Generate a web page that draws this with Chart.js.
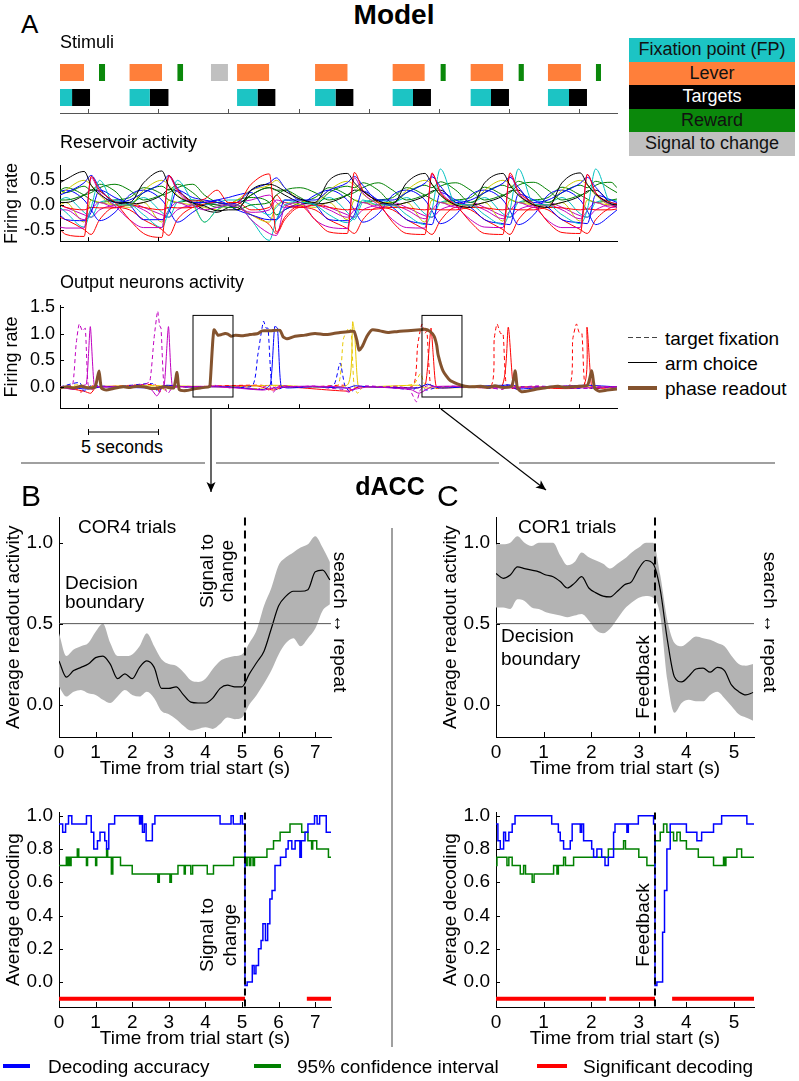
<!DOCTYPE html>
<html>
<head>
<meta charset="utf-8">
<script src="https://cdn.jsdelivr.net/npm/chart.js@4.4.1/dist/chart.umd.min.js"></script>
<style>
  body { margin: 0; background: #fff; }
  #fig { position: relative; width: 799px; height: 1081px; overflow: hidden;
         font-family: 'Liberation Sans', Arial, sans-serif; color: #000; }
  canvas { position: absolute; }
  .t { position: absolute; white-space: nowrap; line-height: 1; }
  .c { transform: translate(-50%, -50%); }
  .l { transform: translateY(-50%); }
  .rl { transform: translate(-50%, -50%) rotate(-90deg); text-align: center; }
  .rr { transform: translate(-50%, -50%) rotate(90deg); text-align: center; }
  .key { position: absolute; left: 629px; width: 166px; height: 23.6px; line-height: 23.6px;
         text-align: center; font-size: 18px; color: #111; }
  .rule { position: absolute; background: #a0a0a0; }
</style>
</head>
<body>
<div id="fig">
  <canvas id="stim" width="620" height="65" style="left:0;top:50px"></canvas>
  <canvas id="res" width="620" height="107" style="left:0;top:150px"></canvas>
  <canvas id="out" width="620" height="134" style="left:0;top:290px"></canvas>
  <canvas id="bTop" width="340" height="280" style="left:0;top:500px"></canvas>
  <canvas id="bBot" width="340" height="255" style="left:0;top:795px"></canvas>
  <canvas id="cTop" width="340" height="280" style="left:437px;top:500px"></canvas>
  <canvas id="cBot" width="340" height="255" style="left:437px;top:795px"></canvas>

  <div class="t l" style="left:21px;top:24px;font-size:26px">A</div>
  <div class="t c" style="left:394px;top:15px;font-size:28px;font-weight:bold">Model</div>
  <div class="t l" style="left:60px;top:42px;font-size:18px">Stimuli</div>
  <div class="t l" style="left:60px;top:142px;font-size:18px">Reservoir activity</div>
  <div class="t l" style="left:60px;top:282px;font-size:18px">Output neurons activity</div>

  <div class="key" style="top:38px;background:#1cc4c4">Fixation point (FP)</div>
  <div class="key" style="top:61.6px;background:#ff7f3a">Lever</div>
  <div class="key" style="top:85.2px;background:#000;color:#fff">Targets</div>
  <div class="key" style="top:108.8px;background:#0b880b">Reward</div>
  <div class="key" style="top:132.4px;background:#c0c0c0">Signal to change</div>

  <div style="position:absolute;left:628px;top:337px;width:29px;height:1px;background:repeating-linear-gradient(90deg,#444 0 5px,transparent 5px 8px)"></div>
  <div class="t l" style="left:665px;top:338px;font-size:19px">target fixation</div>
  <div style="position:absolute;left:628px;top:362px;width:29px;height:1px;background:#000"></div>
  <div class="t l" style="left:665px;top:363px;font-size:19px">arm choice</div>
  <div style="position:absolute;left:628px;top:386px;width:29px;height:4px;background:#84532e"></div>
  <div class="t l" style="left:665px;top:388px;font-size:19px">phase readout</div>

  <div class="t c" style="left:122px;top:447px;font-size:18px">5 seconds</div>

  <div class="rule" style="left:21px;top:462px;width:184px;height:2px"></div>
  <div class="rule" style="left:216px;top:462px;width:283px;height:2px"></div>
  <div class="rule" style="left:519px;top:462px;width:256px;height:2px"></div>
  <div class="rule" style="left:391px;top:528px;width:2px;height:519px"></div>

  <svg width="799" height="1081" style="position:absolute;left:0;top:0">
    <defs>
      <marker id="ah" viewBox="0 0 10 10" refX="10" refY="5" markerWidth="12" markerHeight="10"
              markerUnits="userSpaceOnUse" orient="auto">
        <path d="M0,0.5 L10,5 L0,9.5 L2.5,5 z" fill="#000"/>
      </marker>
    </defs>
    <line x1="211" y1="409" x2="211" y2="492" stroke="#000" stroke-width="1.2" marker-end="url(#ah)"/>
    <line x1="441" y1="409" x2="546" y2="490" stroke="#000" stroke-width="1.2" marker-end="url(#ah)"/>
    <path d="M88.5,429 V435 M88.5,432 H158.5 M158.5,429 V435" stroke="#000" stroke-width="1" fill="none"/>
  </svg>

  <div class="t c" style="left:390px;top:486px;font-size:25px;font-weight:bold">dACC</div>
  <div class="t l" style="left:21px;top:496px;font-size:30px">B</div>
  <div class="t l" style="left:437px;top:496px;font-size:30px">C</div>

  <div class="t l" style="left:78px;top:526px;font-size:19px">COR4 trials</div>
  <div class="t" style="left:65px;top:573px;font-size:19px;line-height:19px">Decision<br>boundary</div>
  <div class="t rl" style="left:217px;top:571px;font-size:19px;line-height:20px">Signal to<br>change</div>
  <div class="t rr" style="left:340px;top:622px;font-size:19px">search ↔ repeat</div>
  <div class="t rl" style="left:218px;top:935px;font-size:19px;line-height:23px">Signal to<br>change</div>

  <div class="t l" style="left:518px;top:526px;font-size:19px">COR1 trials</div>
  <div class="t" style="left:501px;top:624px;font-size:19px;line-height:23px">Decision<br>boundary</div>
  <div class="t rl" style="left:642px;top:677px;font-size:19px">Feedback</div>
  <div class="t rr" style="left:770px;top:622px;font-size:19px">search ↔ repeat</div>
  <div class="t rl" style="left:642px;top:925px;font-size:19px">Feedback</div>

  <div style="position:absolute;left:3px;top:1064px;width:27px;height:4px;background:#0000ff"></div>
  <div class="t l" style="left:48px;top:1066px;font-size:19px">Decoding accuracy</div>
  <div style="position:absolute;left:254px;top:1064px;width:27px;height:4px;background:#008000"></div>
  <div class="t l" style="left:297px;top:1066px;font-size:19px">95% confidence interval</div>
  <div style="position:absolute;left:537px;top:1064px;width:30px;height:4px;background:#ff0000"></div>
  <div class="t l" style="left:583px;top:1066px;font-size:19px">Significant decoding</div>
</div>

<script>
// ---------- panel A: stimuli (seconds) ----------
const timeTicks = [0, 5, 10, 15, 20, 25, 30, 35];
const leverOn   = [-2.58, 2.96, 10.62, 16.18, 21.71, 27.27, 32.78];
const leverOff  = [-0.29, 5.27, 12.90, 18.49, 23.99, 29.58, 35.13];
const rewardOn  = [0.78, 6.37, 25.13, 30.69, 36.20];
const rewardOff = [1.21, 6.77, 25.49, 31.06, 36.56];
const signalOn  = [8.76];
const signalOff = [9.97];
const fpOn      = [-2.58, 2.96, 10.62, 16.18, 21.71, 27.27, 32.78];
const fpOff     = [-1.14, 4.40, 12.08, 17.64, 23.16, 28.72, 34.28];
const targetOn  = [-1.14, 4.40, 12.08, 17.64, 23.16, 28.72, 34.28];
const targetOff = [0.14, 5.73, 13.35, 18.91, 24.44, 30.00, 35.56];

// ---------- panel A: reservoir activity ----------
const resTime = [-2.0, -1.58, -0.28, 0.22, 0.82, 1.92,
  2.96, 3.96, 5.26, 5.76, 6.36, 7.46,
  8.3, 9.2, 10.0,
  10.62, 11.62, 12.92, 13.42, 14.02, 15.12,
  16.18, 17.18, 18.48, 18.98, 19.58, 20.68,
  21.71, 22.71, 24.01, 24.51, 25.11, 26.21,
  27.27, 28.27, 29.57, 30.07, 30.67, 31.77,
  32.78, 33.78, 35.08, 35.58, 36.18, 37.28, 37.7];
const resK1 = [0.45,0.52,0.68,0.40,0.22,0.06, 0.05,0.45,0.69,0.38,0.18,0.04, -0.02,-0.12,-0.10, -0.10,0.30,0.42,0.38,0.28,0.12, 0.05,0.50,0.64,0.45,0.28,0.08, 0.02,0.45,0.64,0.42,0.20,0.00, -0.05,0.45,0.64,0.40,0.20,0.00, -0.05,0.45,0.65,0.42,0.22,0.02,0.00];
const resR1 = [-0.50,-0.60,-0.64,0.58,0.30,0.05, -0.30,-0.58,-0.66,0.60,0.32,0.08, 0.12,0.30,0.05, 0.05,0.42,0.63,-0.55,-0.25,-0.02, -0.30,-0.55,-0.58,0.66,0.30,0.05, -0.35,-0.58,-0.60,0.65,0.25,0.00, -0.35,-0.58,-0.60,0.65,0.28,0.02, -0.35,-0.56,-0.58,0.62,0.25,0.05,0.02];
const resM1 = [-0.45,-0.47,-0.47,0.55,0.25,-0.02, -0.30,-0.46,-0.46,0.58,0.28,0.00, -0.10,-0.05,0.00, 0.00,-0.30,-0.58,-0.62,-0.05,0.05, -0.30,-0.45,-0.48,0.55,0.25,0.00, -0.30,-0.46,-0.47,0.62,0.28,-0.02, -0.30,-0.45,-0.46,0.60,0.25,-0.02, -0.32,-0.46,-0.46,0.62,0.25,0.00,-0.02];
const resC1 = [-0.05,-0.15,-0.45,-0.05,0.50,0.00, 0.00,-0.20,-0.46,-0.10,0.50,0.05, -0.35,-0.10,0.00, 0.00,-0.30,-0.72,-0.30,0.00,0.05, 0.00,-0.20,-0.36,-0.25,0.10,0.00, 0.00,-0.20,-0.40,-0.10,0.73,0.02, 0.00,-0.20,-0.40,-0.10,0.73,0.02, 0.00,-0.20,-0.38,-0.10,0.73,0.02,0.00];
const resB1 = [0.20,0.25,0.45,0.60,0.35,0.05, 0.10,0.25,0.45,0.60,0.35,0.05, 0.05,0.10,0.02, 0.05,0.30,0.45,0.55,0.35,0.10, 0.10,0.30,0.45,0.58,0.40,0.10, 0.10,0.25,0.44,0.57,0.38,0.05, 0.10,0.25,0.44,0.56,0.36,0.05, 0.10,0.25,0.44,0.56,0.36,0.05,0.03];
const resG1 = [0.30,0.25,0.38,0.30,0.42,0.28, 0.00,0.25,0.38,0.30,0.42,0.25, 0.05,0.00,-0.05, -0.05,0.20,0.35,0.30,0.30,0.15, 0.00,0.25,0.38,0.35,0.45,0.30, 0.05,0.25,0.40,0.35,0.47,0.30, 0.05,0.25,0.40,0.35,0.48,0.30, 0.05,0.25,0.40,0.35,0.48,0.32,0.25];
const resY1 = [0.20,0.30,0.50,0.40,0.20,0.00, 0.00,0.30,0.50,0.40,0.20,0.00, -0.35,-0.10,0.00, 0.10,0.30,0.40,0.50,0.35,0.10, 0.05,0.30,0.48,0.40,0.22,0.05, 0.05,0.30,0.50,0.42,0.20,0.00, 0.00,0.30,0.50,0.42,0.20,0.00, 0.00,0.30,0.50,0.40,0.20,0.00,0.00];
const resB2 = [-0.20,-0.30,-0.32,-0.15,0.30,0.15, 0.00,-0.30,-0.30,-0.15,0.30,0.15, 0.10,0.05,0.00, -0.10,-0.20,-0.30,-0.30,0.10,0.10, 0.00,-0.30,-0.32,-0.20,0.28,0.10, -0.05,-0.30,-0.38,-0.40,0.25,0.10, -0.05,-0.30,-0.38,-0.40,0.22,0.10, -0.05,-0.30,-0.36,-0.38,0.20,0.10,0.05];
const resG2 = [0.10,0.10,0.20,0.25,0.35,0.42, 0.30,0.10,0.20,0.25,0.35,0.42, 0.20,0.05,0.00, -0.10,0.00,0.05,0.20,0.30,0.35, 0.25,0.10,0.20,0.25,0.35,0.45, 0.30,0.10,0.20,0.25,0.38,0.45, 0.30,0.10,0.20,0.25,0.40,0.46, 0.30,0.10,0.20,0.25,0.40,0.46,0.35];
const resR2 = [0.00,-0.05,-0.10,-0.05,-0.06,-0.06, 0.00,-0.05,-0.10,-0.05,-0.06,-0.05, 0.02,0.05,0.02, 0.05,-0.10,-0.05,0.20,0.00,-0.05, 0.00,-0.05,-0.10,-0.08,-0.10,-0.08, -0.05,-0.06,-0.10,-0.08,-0.10,-0.10, -0.05,-0.06,-0.10,-0.08,-0.10,-0.10, -0.05,-0.06,-0.10,-0.08,-0.10,-0.10,-0.08];
const resM2 = [-0.10,-0.10,-0.30,-0.10,0.05,-0.05, 0.00,-0.10,-0.30,-0.10,0.05,-0.05, 0.08,0.05,0.00, -0.05,-0.15,-0.10,0.10,0.05,-0.05, 0.00,-0.10,-0.25,-0.10,0.05,-0.05, 0.00,-0.10,-0.28,-0.10,0.05,-0.05, 0.00,-0.10,-0.28,-0.12,0.05,-0.05, 0.00,-0.10,-0.28,-0.12,0.05,-0.05,-0.04];
const resK2 = [0.05,0.05,0.20,0.30,0.28,0.05, 0.02,0.05,0.20,0.32,0.28,0.05, -0.10,-0.15,-0.05, 0.00,0.20,0.35,0.30,0.20,0.05, 0.02,0.05,0.20,0.30,0.28,0.05, 0.00,0.05,0.18,0.28,0.30,0.05, 0.00,0.05,0.18,0.28,0.30,0.00, 0.00,0.05,0.18,0.28,0.30,0.02,-0.05];
const resC2 = [0.10,0.15,-0.15,-0.25,0.05,0.10, 0.05,0.15,-0.15,-0.25,0.05,0.10, 0.00,0.05,0.10, 0.10,0.00,-0.20,-0.05,0.10,0.05, 0.05,0.15,-0.15,-0.30,0.05,0.10, 0.05,0.15,-0.18,-0.25,0.05,0.10, 0.05,0.15,-0.18,-0.25,0.05,0.10, 0.05,0.15,-0.18,-0.25,0.05,0.10,0.08];
const resY2 = [0.00,0.05,-0.35,0.10,0.05,0.00, -0.05,0.05,-0.35,0.10,0.05,0.00, -0.05,-0.10,0.05, 0.00,-0.20,-0.35,0.00,0.05,0.00, -0.05,0.05,-0.30,0.10,0.05,0.00, -0.05,0.05,-0.35,0.10,0.05,0.00, -0.05,0.05,-0.33,0.10,0.05,0.00, -0.05,0.05,-0.33,0.10,0.05,0.00,0.00];
const resB3 = [0.28,0.30,0.10,-0.10,-0.32,-0.15, 0.20,0.30,0.10,-0.10,-0.35,-0.15, 0.00,0.10,0.15, 0.20,0.25,-0.25,-0.30,-0.10,0.00, 0.20,0.30,0.10,-0.10,-0.35,-0.18, 0.20,0.30,0.10,-0.12,-0.38,-0.20, 0.20,0.30,0.10,-0.12,-0.40,-0.20, 0.20,0.30,0.10,-0.12,-0.40,-0.20,-0.10];
const resG3 = [0.30,0.35,0.20,0.10,0.05,0.10, 0.15,0.35,0.22,0.10,0.05,0.10, 0.05,-0.05,0.00, 0.10,0.15,0.05,-0.20,-0.10,0.05, 0.15,0.35,0.20,0.10,0.05,0.10, 0.15,0.35,0.20,0.12,0.05,0.10, 0.15,0.36,0.20,0.12,0.05,0.10, 0.15,0.36,0.20,0.12,0.05,0.10,0.12];
const resM3 = [0.00,-0.05,-0.20,-0.25,-0.10,0.00, 0.05,-0.05,-0.20,-0.25,-0.10,0.00, 0.05,0.00,0.00, 0.05,0.10,0.20,0.05,-0.05,0.00, 0.05,-0.05,-0.20,-0.25,-0.10,0.00, 0.05,-0.05,-0.22,-0.25,-0.10,0.00, 0.05,-0.05,-0.22,-0.25,-0.10,0.00, 0.05,-0.05,-0.22,-0.25,-0.10,0.00,0.00];
const resR3 = [-0.25,-0.30,-0.50,-0.60,-0.30,-0.05, -0.10,-0.30,-0.50,-0.62,-0.30,-0.05, 0.00,0.05,0.00, -0.05,-0.20,-0.40,-0.58,-0.30,-0.05, -0.10,-0.30,-0.48,-0.58,-0.30,-0.05, -0.10,-0.30,-0.50,-0.60,-0.32,-0.05, -0.10,-0.30,-0.50,-0.60,-0.30,-0.05, -0.10,-0.30,-0.50,-0.58,-0.30,-0.05,-0.02];

// ---------- panel A: output neurons, [time, rate] ----------
const fixMagenta = [[-2,0],[-1.5,0.02],[-1.1,0.03],[-0.85,0.8],[-0.63,1.18],[-0.4,1.05],[-0.2,1.1],[0,0.05],[0.3,-0.05],[0.6,0],[1.2,0.01],[2,-0.01],[3,0.02],[4,0.05],[4.4,0.1],[4.7,0.9],[4.96,1.42],[5.1,1.15],[5.2,1.1],[5.41,0.02],[5.7,-0.12],[6,-0.02],[7,0.01],[8,0],[9,0.03],[10,-0.02],[11,0.01],[12,-0.05],[12.9,0.03],[13.2,-0.1],[13.6,0.02],[15,0],[16,0.02],[17,-0.02],[18.2,-0.05],[18.6,-0.1],[19.2,0],[20,0.02],[21,0],[22,0.01],[22.9,-0.05],[23.4,-0.28],[23.7,-0.05],[24.2,0.02],[25,0],[26,0.01],[27,-0.01],[28,0.02],[29.5,-0.05],[30,0.01],[31,0],[32,0.02],[33,0],[34.5,0.02],[35.5,-0.03],[36,0.01],[37.7,0]];
const armMagenta = [[-2,0],[-1,-0.05],[-0.5,0.02],[-0.12,0.05],[0.16,1.13],[0.44,0.03],[0.8,0],[2,0],[3.5,0.01],[4.5,-0.05],[4.9,-0.17],[5.2,-0.05],[5.44,0.05],[5.73,1.13],[6,0.02],[6.5,0],[8,0.01],[10,-0.01],[12.5,-0.06],[13.2,-0.02],[15,0.01],[18,0],[18.8,-0.05],[20,0],[23,-0.05],[23.6,-0.12],[24.5,0],[27,0.01],[29.5,-0.02],[32,0],[35,-0.02],[37.7,0]];
const fixBlue = [[-2,0],[-0.6,0.08],[-0.3,-0.08],[0.2,0.02],[2,0],[4.6,0.06],[5,-0.1],[5.4,0.02],[7,0],[9,0.01],[11.69,0.02],[12.1,0.6],[12.5,1.23],[12.7,1.1],[12.83,1.1],[13.1,0.03],[13.5,-0.05],[14,0],[16,0.01],[17.5,0.03],[17.96,0.45],[18.3,0.03],[18.7,-0.1],[19.2,0],[21,0],[23.2,-0.05],[23.6,0.04],[24.1,-0.06],[25,0],[27,0.01],[29,-0.03],[29.8,0.04],[31,0],[33,0.01],[35,-0.03],[37.7,0]];
const armBlue = [[-2,0],[0,-0.04],[1,0],[4.8,-0.02],[5.6,0.03],[7,0],[10,0],[12.5,-0.05],[13,0.05],[13.3,1.13],[13.5,1.1],[13.75,0.02],[14.2,-0.02],[16,0],[18.5,-0.02],[19,0.02],[20,0],[23.5,-0.02],[24.2,0.05],[25,-0.02],[27,0],[30,0.03],[30.5,-0.04],[33,0],[35.5,0.03],[37.7,0]];
const fixYellow = [[-2,0],[-0.5,0.04],[0.2,-0.03],[1,0],[5,0.02],[5.5,-0.06],[6,0],[10,0],[12.8,-0.04],[13.2,0.02],[16,0],[17.8,0.02],[18.2,0.9],[18.57,1.1],[18.75,1.05],[18.95,0.05],[19.2,-0.12],[19.6,0],[21,0],[23.2,0.05],[23.7,0.25],[24,0.05],[25,0],[28,0.02],[30,0],[34,0.01],[37.7,0]];
const armYellow = [[-2,0],[5.5,0.02],[10,0],[13.3,0.03],[16,0],[18.53,0.05],[18.86,1.22],[19,1.0],[19.24,0.03],[19.6,0],[23.5,0.03],[24,-0.02],[30,0],[37.7,0]];
const fixRed = [[-2,0],[-0.8,-0.04],[-0.5,-0.1],[-0.2,-0.02],[0.3,0.02],[1,0],[4.8,0.04],[5.1,-0.1],[5.5,0],[7,0],[12.4,0.03],[12.9,-0.06],[13.4,0],[16,0],[18.3,0.03],[18.8,-0.05],[19.3,0],[21,0],[23.16,0.02],[23.5,0.8],[23.8,1.18],[24,1.0],[24.15,1.05],[24.4,0.05],[24.8,-0.03],[26,0.01],[28.72,0.02],[28.95,0.9],[29.15,1.18],[29.4,1.0],[29.58,1.0],[29.8,0.05],[30.2,-0.03],[31,0],[34.28,0.02],[34.55,0.9],[34.81,1.18],[35,1.02],[35.2,1.0],[35.4,0.05],[35.8,-0.03],[37.7,0]];
const armRed = [[-2,0],[-0.3,-0.08],[0.2,-0.12],[0.6,0],[4,0],[5,-0.05],[5.6,0.02],[7,0],[12,0.02],[13.2,-0.06],[14,0],[18.6,-0.08],[19.3,0],[23.5,-0.02],[24.05,0.05],[24.44,1.1],[24.6,0.6],[24.8,0.02],[25.2,-0.02],[27,0],[29.5,0.02],[29.95,1.12],[30.3,0.02],[30.6,-0.05],[31,0],[35.3,0.02],[35.56,1.12],[35.88,0.02],[36.2,-0.03],[37.7,0]];
const phaseReadout = [[-2,-0.02],[-1.5,0],[-1,-0.02],[-0.5,0.01],[0,-0.02],[0.5,0],[0.78,0.3],[0.95,-0.02],[1.3,-0.06],[1.8,-0.03],[2.5,0],[3,-0.01],[3.5,0.01],[4,0],[4.5,-0.03],[5,-0.02],[5.5,0],[6.1,-0.02],[6.34,0.27],[6.5,-0.05],[7,-0.07],[7.5,-0.04],[8,-0.02],[8.6,0],[8.69,0.02],[8.85,0.7],[8.98,1.07],[9.26,0.97],[9.5,0.98],[9.76,1.0],[9.97,0.99],[10.2,0.95],[10.5,0.97],[11,0.96],[11.54,0.98],[12.11,1.0],[12.4,1.05],[13,1.05],[13.68,1.06],[13.9,0.94],[14.18,0.9],[14.75,0.95],[15.46,0.97],[16.18,1.0],[16.89,0.98],[17.5,1.0],[17.96,1.02],[18.67,1.04],[18.96,1.04],[19.17,0.86],[19.31,0.69],[19.53,0.75],[19.88,0.95],[20.24,1.07],[20.81,1.05],[21.38,1.02],[22.09,1.04],[22.8,1.05],[23.66,1.07],[24.01,1.08],[24.37,1.04],[24.66,0.95],[24.85,0.78],[24.95,0.6],[25.3,0.3],[25.8,0.12],[26.37,0.05],[26.87,0.01],[27.5,0],[28,0.01],[28.5,-0.01],[29,0.02],[29.6,-0.01],[30.2,0.02],[30.45,0.3],[30.6,-0.02],[30.9,-0.09],[31.5,-0.07],[32,-0.04],[32.5,-0.02],[33,0],[33.5,0.01],[34,-0.01],[34.5,0],[35,0.01],[35.6,0.03],[35.9,0.3],[36.1,-0.02],[36.4,-0.08],[37,-0.06],[37.7,-0.04]];
const zoomWindows = [[7.48, 10.33], [23.8, 26.65]];

// ---------- panels B, C: readout ----------
const bTime  = [0,0.2,0.4,0.6,0.8,1.0,1.2,1.4,1.6,1.8,2.0,2.2,2.4,2.6,2.8,3.0,3.2,3.4,3.6,3.8,4.0,4.2,4.4,4.6,4.8,5.0,5.2,5.4,5.6,5.8,6.0,6.2,6.4,6.6,6.8,7.0,7.2,7.4];
const bMean  = [0.27,0.17,0.21,0.23,0.25,0.29,0.30,0.25,0.16,0.19,0.16,0.23,0.27,0.23,0.10,0.10,0.11,0.06,0.015,0.01,0.01,0.04,0.10,0.12,0.11,0.11,0.19,0.26,0.33,0.47,0.61,0.67,0.70,0.70,0.71,0.82,0.83,0.77];
const bUpper = [0.44,0.30,0.34,0.36,0.38,0.45,0.50,0.38,0.30,0.30,0.31,0.36,0.44,0.36,0.28,0.25,0.24,0.20,0.15,0.14,0.16,0.22,0.27,0.29,0.30,0.31,0.38,0.46,0.61,0.72,0.86,0.91,0.94,0.97,0.99,1.04,0.97,0.88];
const bLower = [0.11,0.05,0.08,0.09,0.07,0.06,0.03,0.01,0.05,0.09,0.06,0.05,0.08,0.04,-0.04,-0.06,-0.09,-0.13,-0.16,-0.15,-0.14,-0.15,-0.12,-0.08,-0.09,-0.08,0.00,0.06,0.13,0.21,0.31,0.38,0.41,0.36,0.41,0.47,0.58,0.62];
const cTime  = [0,0.15,0.3,0.45,0.6,0.75,0.9,1.05,1.2,1.35,1.5,1.65,1.8,1.95,2.1,2.25,2.4,2.55,2.7,2.85,3.0,3.15,3.3,3.45,3.6,3.75,3.9,4.05,4.2,4.35,4.5,4.65,4.8,4.95,5.1,5.25,5.4];
const cMean  = [0.81,0.78,0.80,0.85,0.84,0.83,0.82,0.80,0.79,0.76,0.72,0.75,0.79,0.72,0.69,0.67,0.665,0.70,0.74,0.76,0.84,0.89,0.87,0.71,0.40,0.17,0.14,0.175,0.22,0.225,0.20,0.23,0.21,0.12,0.08,0.06,0.075];
const cUpper = [0.99,0.99,1.00,1.04,1.00,0.98,1.00,1.00,1.00,0.92,0.86,0.88,0.94,0.91,0.89,0.87,0.84,0.87,0.90,0.94,0.97,1.00,1.00,0.80,0.52,0.38,0.36,0.39,0.42,0.41,0.40,0.38,0.36,0.30,0.25,0.24,0.25];
const cLower = [0.60,0.60,0.59,0.65,0.64,0.60,0.59,0.57,0.56,0.55,0.54,0.55,0.56,0.52,0.46,0.44,0.47,0.53,0.59,0.63,0.66,0.67,0.66,0.55,0.15,-0.05,0.01,0.03,0.02,0.02,0.06,0.08,0.04,-0.01,-0.06,-0.08,-0.10];
const bEvent = 5.08;
const cEvent = 3.34;
const boundary = 0.5;

// ---------- panels B, C: decoding, [time, value] steps ----------
const accB = [[0,0.95],[0.1,0.9],[0.18,0.95],[0.26,1.0],[0.35,0.95],[0.75,1.0],[0.88,0.9],[0.95,0.8],[1.05,0.85],[1.12,0.9],[1.25,0.85],[1.3,0.8],[1.36,0.95],[1.52,1.0],[2.2,0.95],[2.24,1.0],[2.28,0.9],[2.33,0.95],[2.38,0.85],[2.55,0.95],[2.62,1.0],[4.4,0.95],[4.7,1.0],[4.76,0.95],[4.96,1.0],[5.01,0.95],[5.08,-0.02],[5.14,0],[5.28,0.1],[5.33,0.05],[5.38,0.1],[5.45,0.2],[5.52,0.25],[5.57,0.35],[5.64,0.25],[5.7,0.35],[5.76,0.5],[5.82,0.55],[5.9,0.7],[6.05,0.75],[6.2,0.8],[6.26,0.85],[6.36,0.8],[6.45,0.85],[6.58,0.75],[6.62,0.85],[6.72,0.9],[6.8,0.95],[6.98,1.0],[7.05,0.95],[7.12,1.0],[7.3,0.9],[7.43,0.9]];
const ciB = [[0,0.7],[0.2,0.75],[0.23,0.7],[0.27,0.75],[0.3,0.7],[0.33,0.75],[0.5,0.8],[0.54,0.75],[0.75,0.7],[0.78,0.75],[1.0,0.7],[1.03,0.75],[1.3,0.8],[1.33,0.75],[1.43,0.65],[1.47,0.75],[1.68,0.7],[2.0,0.65],[2.7,0.6],[2.74,0.65],[3.03,0.6],[3.07,0.65],[3.25,0.7],[3.42,0.65],[3.45,0.7],[3.6,0.65],[3.65,0.7],[4.05,0.65],[4.22,0.7],[4.77,0.75],[5.1,0.7],[5.14,0.75],[5.2,0.7],[5.24,0.75],[5.3,0.7],[5.34,0.75],[5.68,0.8],[5.86,0.85],[6.04,0.9],[6.31,0.95],[6.63,0.9],[6.8,0.85],[6.9,0.8],[6.93,0.85],[7.04,0.8],[7.36,0.75],[7.43,0.75]];
const accC = [[0,0.95],[0.04,0.85],[0.09,0.8],[0.16,0.9],[0.2,0.85],[0.27,0.9],[0.34,0.95],[0.4,1.0],[1.17,0.95],[1.31,0.9],[1.35,0.85],[1.42,0.8],[1.56,0.85],[1.6,0.95],[1.77,0.9],[1.8,0.95],[1.84,0.85],[2.01,0.8],[2.05,0.75],[2.12,0.8],[2.22,0.75],[2.29,0.7],[2.36,0.75],[2.47,0.9],[2.5,0.95],[2.75,0.9],[2.78,0.95],[2.99,1.0],[3.31,0.95],[3.34,-0.02],[3.38,0],[3.45,0],[3.5,0.3],[3.54,0.55],[3.59,0.8],[3.66,0.95],[4.0,0.9],[4.22,0.85],[4.32,0.9],[4.57,0.95],[4.74,1.0],[5.27,0.95],[5.42,0.95]];
const ciC = [[0,0.7],[0.02,0.75],[0.23,0.7],[0.27,0.75],[0.34,0.7],[0.51,0.65],[0.58,0.7],[0.62,0.65],[0.76,0.6],[0.8,0.65],[1.21,0.7],[1.28,0.65],[1.31,0.7],[1.42,0.75],[1.46,0.7],[1.63,0.75],[2.36,0.8],[2.68,0.85],[2.72,0.8],[3.0,0.75],[3.17,0.7],[3.34,0.85],[3.45,0.9],[3.52,0.95],[3.59,0.9],[3.73,0.85],[3.8,0.9],[3.87,0.85],[4.0,0.8],[4.25,0.75],[4.57,0.7],[4.78,0.75],[4.8,0.7],[4.83,0.75],[5.06,0.8],[5.16,0.75],[5.42,0.75]];
const sigB = [[0, 5.08], [6.77, 7.43]];
const sigC = [[0, 2.31], [2.38, 3.34], [3.7, 5.42]];
const sigLevel = -0.1;

// ---------- helpers ----------
Chart.defaults.font.family = "'Liberation Sans', Arial, sans-serif";
Chart.defaults.color = '#000';
Chart.defaults.animation = false;
Chart.defaults.responsive = false;
Chart.defaults.plugins.legend.display = false;
Chart.defaults.plugins.tooltip.enabled = false;
Chart.defaults.elements.point.radius = 0;

const pts = (xs, ys) => xs.map((x, i) => ({x, y: ys[i]}));
const pairs = arr => arr.map(p => ({x: p[0], y: p[1]}));
// start/end intervals -> broken horizontal line at a given level
const spans = (on, off, level) => on.flatMap((s, i) =>
  (i ? [{x: s - 0.01, y: null}] : []).concat([{x: s, y: level}, {x: off[i], y: level}]));

// tick marks pointing into the plot, like the matplotlib original
const innerTicks = {
  id: 'innerTicks',
  afterDraw(chart, args, o) {
    const {ctx, chartArea: a} = chart;
    const sx = chart.scales.x, sy = chart.scales.y;
    ctx.save();
    ctx.strokeStyle = o.color || '#000';
    ctx.lineWidth = 1;
    ctx.beginPath();
    if (o.x) sx.ticks.forEach(t => {
      const p = Math.round(sx.getPixelForValue(t.value)) + 0.5;
      ctx.moveTo(p, a.bottom); ctx.lineTo(p, a.bottom - o.x);
    });
    if (o.y) sy.ticks.forEach(t => {
      const p = Math.round(sy.getPixelForValue(t.value)) + 0.5;
      ctx.moveTo(a.left, p); ctx.lineTo(a.left + o.y, p);
    });
    ctx.stroke();
    ctx.restore();
  }
};

// reference lines and zoom boxes, in data units
const marks = {
  id: 'marks',
  afterDatasetsDraw(chart, args, o) {
    const {ctx, chartArea: a, scales: {x, y}} = chart;
    ctx.save();
    (o.hlines || []).forEach(h => {
      const p = y.getPixelForValue(h.y);
      ctx.strokeStyle = h.color; ctx.lineWidth = h.width; ctx.setLineDash(h.dash || []);
      ctx.beginPath(); ctx.moveTo(a.left, p); ctx.lineTo(a.right, p); ctx.stroke();
    });
    (o.vlines || []).forEach(v => {
      const p = x.getPixelForValue(v.x);
      ctx.strokeStyle = v.color; ctx.lineWidth = v.width; ctx.setLineDash(v.dash || []);
      ctx.beginPath(); ctx.moveTo(p, a.top); ctx.lineTo(p, a.bottom); ctx.stroke();
    });
    ctx.setLineDash([]);
    (o.boxes || []).forEach(b => {
      const x0 = x.getPixelForValue(b.x0), x1 = x.getPixelForValue(b.x1);
      const y0 = y.getPixelForValue(b.y0), y1 = y.getPixelForValue(b.y1);
      ctx.strokeStyle = '#000'; ctx.lineWidth = 1;
      ctx.strokeRect(x0, y1, x1 - x0, y0 - y1);
    });
    ctx.restore();
  }
};

const noGrid = {display: false, drawTicks: false};
const fixTicks = list => s => { s.ticks = list.map(v => ({value: v})); };

const xTime = () => ({
  type: 'linear', min: -2, max: 37.7, grid: noGrid, border: {color: '#000'},
  ticks: {display: false}, afterBuildTicks: fixTicks(timeTicks),
  afterFit: s => { s.height = 2; }
});
const yAxis = (min, max, ticks, title, size, width, pad, titlePad) => ({
  type: 'linear', min, max, grid: noGrid, border: {color: '#000'},
  ticks: {font: {size}, padding: pad, callback: v => v.toFixed(1)},
  afterBuildTicks: fixTicks(ticks),
  afterFit: s => { s.width = width; },
  title: {display: true, text: title, font: {size}, padding: {top: titlePad, bottom: 0}}
});
const xTrial = (max, ticks) => ({
  type: 'linear', min: 0, max, grid: noGrid, border: {color: '#000'},
  ticks: {font: {size: 19}, padding: 4, maxRotation: 0, autoSkip: false, callback: v => String(v)},
  afterBuildTicks: fixTicks(ticks),
  afterFit: s => { s.height = 43; },
  title: {display: true, text: 'Time from trial start (s)', font: {size: 19}, padding: {top: 0, bottom: 0}}
});

// ---------- A: stimuli, drawn as thick broken lines on two rows ----------
const stimRow = (on, off, row, color) => ({
  data: spans(on, off, row), borderColor: color, borderWidth: 17,
  borderCapStyle: 'butt', clip: 0, spanGaps: false
});
new Chart(document.getElementById('stim'), {
  type: 'line',
  data: {datasets: [
    stimRow(leverOn, leverOff, 2, '#ff7f3a'),
    stimRow(rewardOn, rewardOff, 2, '#0b880b'),
    stimRow(signalOn, signalOff, 2, '#c0c0c0'),
    stimRow(fpOn, fpOff, 1, '#1cc4c4'),
    stimRow(targetOn, targetOff, 1, '#000')
  ]},
  options: {
    layout: {padding: {left: 60, right: 3, top: 10, bottom: 0}},
    scales: {
      x: Object.assign(xTime(), {border: {color: '#555'}}),
      y: {type: 'linear', min: 0.38, max: 2.5, display: false}
    },
    plugins: {innerTicks: {x: 4, color: '#555'}}
  },
  plugins: [innerTicks]
});

// ---------- A: reservoir ----------
const reservoir = [
  [resK1, '#000000'], [resR1, '#ff0000'], [resM1, '#c000c0'], [resC1, '#00c0c0'],
  [resB1, '#0000ff'], [resG1, '#008000'], [resY1, '#c8c800'], [resB2, '#0000ff'],
  [resG2, '#008000'], [resR2, '#ff0000'], [resM2, '#c000c0'], [resK2, '#000000'],
  [resC2, '#00c0c0'], [resY2, '#c8c800'], [resB3, '#0000ff'], [resG3, '#008000'],
  [resM3, '#c000c0'], [resR3, '#ff0000']
];
new Chart(document.getElementById('res'), {
  type: 'line',
  data: {datasets: reservoir.map(([v, c]) => ({
    data: pts(resTime, v), borderColor: c, borderWidth: 1, cubicInterpolationMode: 'monotone'
  }))},
  options: {
    layout: {padding: {top: 10, right: 3}},
    scales: {x: xTime(), y: yAxis(-0.737, 0.795, [-0.5, 0, 0.5], 'Firing rate', 18, 60, 5, 1)},
    plugins: {innerTicks: {x: 4, y: 4}}
  },
  plugins: [innerTicks]
});

// ---------- A: output neurons (first dataset is drawn on top) ----------
const outLine = (d, color, dashed) => ({
  data: pairs(d), borderColor: color, borderWidth: 1, borderDash: dashed ? [4, 3] : [], tension: 0.2
});
new Chart(document.getElementById('out'), {
  type: 'line',
  data: {datasets: [
    {data: pairs(phaseReadout), borderColor: '#84532e', borderWidth: 3, tension: 0.2},
    outLine(fixMagenta, '#c000c0', true), outLine(armMagenta, '#c000c0', false),
    outLine(fixBlue, '#0000ff', true), outLine(armBlue, '#0000ff', false),
    outLine(fixYellow, '#e8c800', true), outLine(armYellow, '#e8c800', false),
    outLine(fixRed, '#ff0000', true), outLine(armRed, '#ff0000', false)
  ]},
  options: {
    layout: {padding: {top: 12, right: 3}},
    scales: {x: xTime(), y: yAxis(-0.4, 1.52, [0, 0.5, 1, 1.5], 'Firing rate', 18, 60, 5, 1)},
    plugins: {
      innerTicks: {x: 4, y: 4},
      marks: {boxes: zoomWindows.map(w => ({x0: w[0], x1: w[1], y0: -0.19, y1: 1.34}))}
    }
  },
  plugins: [innerTicks, marks]
});

// ---------- B, C: readout (mean first so it sits above the band) ----------
function readout(id, time, mean, upper, lower, xmax, xticks, eventT, padRight) {
  new Chart(document.getElementById(id), {
    type: 'line',
    data: {datasets: [
      {data: pts(time, mean), borderColor: '#000', borderWidth: 1.2, cubicInterpolationMode: 'monotone'},
      {data: pts(time, upper), borderColor: 'rgba(0,0,0,0)', backgroundColor: '#b3b3b3',
       fill: '+1', cubicInterpolationMode: 'monotone'},
      {data: pts(time, lower), borderColor: 'rgba(0,0,0,0)', fill: false, cubicInterpolationMode: 'monotone'}
    ]},
    options: {
      layout: {padding: {top: 17, right: padRight}},
      scales: {
        x: xTrial(xmax, xticks),
        y: yAxis(-0.2, 1.156, [0, 0.5, 1], 'Average readout activity', 19, 59, 6, 2)
      },
      plugins: {
        innerTicks: {x: 5, y: 4},
        marks: {
          hlines: [{y: boundary, color: '#555', width: 1}],
          vlines: [{x: eventT, color: '#000', width: 2, dash: [8, 5]}]
        }
      }
    },
    plugins: [innerTicks, marks]
  });
}
readout('bTop', bTime, bMean, bUpper, bLower, 7.43, [0, 1, 2, 3, 4, 5, 6, 7], bEvent, 9);
readout('cTop', cTime, cMean, cUpper, cLower, 5.42, [0, 1, 2, 3, 4, 5], cEvent, 23);

// ---------- B, C: decoding ----------
function decoding(id, acc, ci, sig, xmax, xticks, eventT, padRight) {
  new Chart(document.getElementById(id), {
    type: 'line',
    data: {datasets: [
      {data: pairs(acc), borderColor: '#0000ff', borderWidth: 1.5, stepped: true},
      {data: pairs(ci), borderColor: '#008000', borderWidth: 1.5, stepped: true},
      {data: spans(sig.map(s => s[0]), sig.map(s => s[1]), sigLevel),
       borderColor: '#ff0000', borderWidth: 4, borderCapStyle: 'butt'}
    ]},
    options: {
      layout: {padding: {top: 15, right: padRight}},
      scales: {
        x: xTrial(xmax, xticks),
        y: yAxis(-0.15, 1.02, [0, 0.2, 0.4, 0.6, 0.8, 1], 'Average decoding', 19, 59, 6, 2)
      },
      plugins: {
        innerTicks: {x: 5, y: 4},
        marks: {vlines: [{x: eventT, color: '#000', width: 2, dash: [7, 4]}]}
      }
    },
    plugins: [innerTicks, marks]
  });
}
decoding('bBot', accB, ciB, sigB, 7.43, [0, 1, 2, 3, 4, 5, 6, 7], bEvent, 9);
decoding('cBot', accC, ciC, sigC, 5.42, [0, 1, 2, 3, 4, 5], cEvent, 23);
</script>
</body>
</html>
